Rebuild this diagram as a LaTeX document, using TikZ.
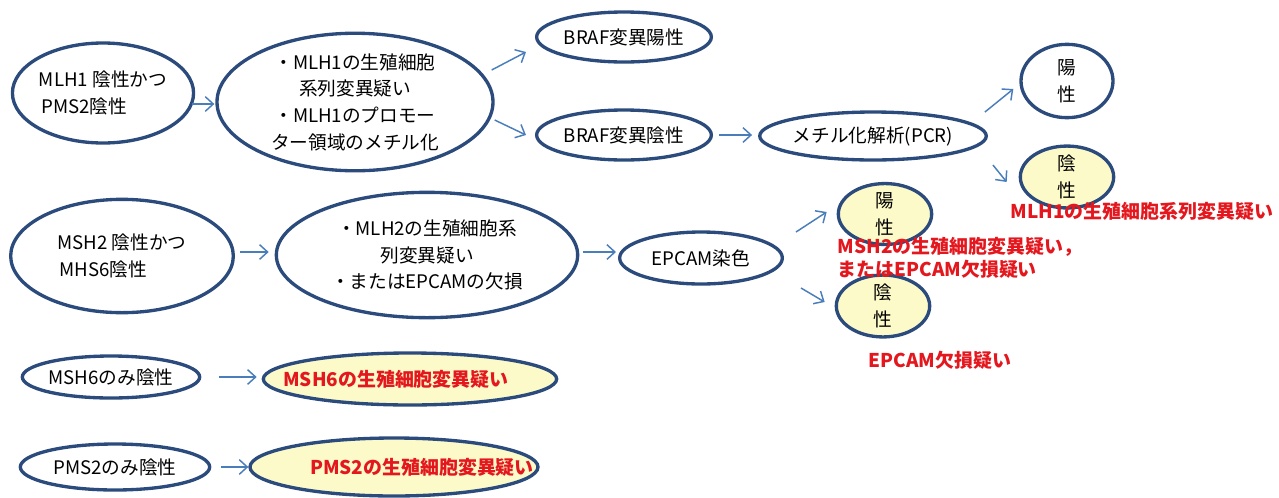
\documentclass[tikz,border=0pt]{standalone}
\usepackage{fontspec}
\setmainfont{Noto Sans CJK JP}
\usetikzlibrary{shapes.geometric,arrows.meta}
\definecolor{edgeblue}{HTML}{2C4B7D}
\definecolor{arrowblue}{HTML}{4A7EBB}
\definecolor{paleyellow}{HTML}{FCFAC8}
\definecolor{redtext}{HTML}{E3171D}
\tikzset{
  oval/.style={ellipse, draw=edgeblue, line width=2.5pt, inner sep=0pt, align=center,
    font=\fontsize{14}{20}\selectfont},
  result/.style={oval, fill=paleyellow},
  arr/.style={draw=arrowblue, line width=1.1pt, -{Straight Barb[length=6pt,width=11pt]}},
  redlabel/.style={text=redtext, font=\fontsize{14.2}{17}\selectfont\bfseries},
}
\begin{document}
\begin{tikzpicture}[x=0.75pt,y=-0.75pt]
\useasboundingbox (0,0) rectangle (1279,497);
% row 1
\node[oval, minimum width=122pt, minimum height=75pt] (A) at (103,93) {MLH1 陰性かつ\\PMS2陰性\phantom{かつ}};
\node[oval, minimum width=207pt, minimum height=86pt] (B) at (355,102) {・MLH1の生殖細胞\\系列変異疑い\\・MLH1のプロモー\\ター領域のメチル化};
\node[oval, minimum width=131pt, minimum height=37.5pt] (C) at (624,37) {BRAF変異陽性};
\node[oval, minimum width=131pt, minimum height=37.5pt] (D) at (624,135) {BRAF変異陰性};
\node[oval, minimum width=167pt, minimum height=36pt] (E) at (873,136) {メチル化解析(PCR)};
\node[oval, minimum width=69pt, minimum height=55pt] (F) at (1067,81) {陽\\性};
\node[result, minimum width=70pt, minimum height=44pt] (G) at (1067,177) {陰\\性};
\node[redlabel] (Glab) at (1142,211) {MLH1の生殖細胞系列変異疑い};
% row 2
\node[oval, minimum width=167pt, minimum height=85pt] (H) at (122,256) {MSH2 陰性かつ\\MHS6陰性\phantom{かつ}};
\node[oval, minimum width=226pt, minimum height=94pt] (I) at (427,255) {・MLH2の生殖細胞系\\列変異疑い\\・またはEPCAMの欠損};
\node[oval, minimum width=122pt, minimum height=39pt] (J) at (701,258) {EPCAM染色};
\node[result, minimum width=70pt, minimum height=42pt] (K) at (885,214) {陽\\性};
\node[result, minimum width=70pt, minimum height=43pt] (L) at (883,306) {陰\\性};
\node[redlabel, anchor=west, align=left] (Klab) at (833,258) {MSH2の生殖細胞変異疑い，\\またはEPCAM欠損疑い};
\node[redlabel] (Llab) at (940,360) {EPCAM欠損疑い};
% rows 3, 4
\node[oval, minimum width=133pt, minimum height=31.5pt] (M) at (111,377) {MSH6のみ陰性};
\node[result, minimum width=220pt, minimum height=39pt, redlabel] (N) at (410,379) {\makebox[0pt]{\hspace{-21pt}MSH6の生殖細胞変異疑い}};
\node[oval, minimum width=142pt, minimum height=34.5pt] (O) at (115,467) {PMS2のみ陰性};
\node[result, minimum width=216pt, minimum height=43.5pt, redlabel] (P) at (394,467) {\makebox[0pt]{\hspace{42pt}PMS2の生殖細胞変異疑い}};
% connectors
\draw[arr] ([shift={(-3,11)}]A.east) -- ([shift={(-1,2)}]B.west);
\draw[arr] ([shift={(-3,-32)}]B.east) -- ([shift={(-9,15)}]C.west);
\draw[arr] ([shift={(0,18)}]B.east) -- ([shift={(-9,0)}]D.west);
\draw[arr] ([shift={(6,0)}]D.east) -- ([shift={(-6,-1)}]E.west);
\draw[arr] ([shift={(-3,-24)}]E.east) -- ([shift={(-6,8)}]F.west);
\draw[arr] ([shift={(5,29)}]E.east) -- ([shift={(-12,5)}]G.west);
\draw[arr] ([shift={(5,-4)}]H.east) -- ([shift={(-6,-3)}]I.west);
\draw[arr] ([shift={(4,-3)}]I.east) -- ([shift={(-2,-6)}]J.west);
\draw[arr] ([shift={(12,-26)}]J.east) -- ([shift={(-10,-2)}]K.west);
\draw[arr] ([shift={(17,30)}]J.east) -- ([shift={(-10,-4)}]L.west);
\draw[arr] ([shift={(18,0)}]M.east) -- ([shift={(-5,-2)}]N.west);
\draw[arr] ([shift={(10,0)}]O.east) -- (P.west);
\end{tikzpicture}
\end{document}
